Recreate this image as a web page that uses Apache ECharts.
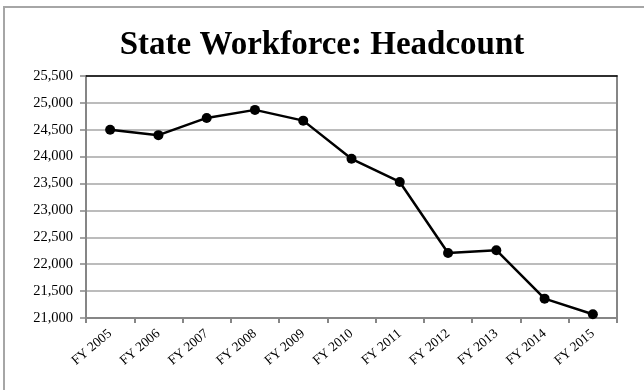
<!DOCTYPE html>
<html>
<head>
<meta charset="utf-8">
<style>
  html, body { margin: 0; padding: 0; background: #fff; }
  #chart { width: 644px; height: 390px; }
</style>
<script src="https://cdn.jsdelivr.net/npm/echarts@6/dist/echarts.min.js"></script>
</head>
<body>
<div id="chart"></div>
<script>
// Fiscal years on the category axis
const years = ['FY 2005', 'FY 2006', 'FY 2007', 'FY 2008', 'FY 2009', 'FY 2010',
               'FY 2011', 'FY 2012', 'FY 2013', 'FY 2014', 'FY 2015'];
// State workforce headcount per fiscal year
const headcount = [24500, 24400, 24720, 24870, 24670, 23960,
                   23530, 22210, 22260, 21360, 21070];
// Value axis range and step
const yMin = 21000;
const yMax = 25500;
const yStep = 500;

const serif = '"Liberation Serif", "DejaVu Serif", serif';
const chart = echarts.init(document.getElementById('chart'));

chart.setOption({
  animation: false,
  backgroundColor: '#fff',
  title: {
    text: 'State Workforce: Headcount',
    left: 'center',
    top: 24,
    textStyle: { fontFamily: serif, fontSize: 33, fontWeight: 'bold', color: '#000' }
  },
  graphic: [{
    type: 'rect',
    shape: { x: 4, y: 7, width: 700, height: 420 },
    style: { fill: 'none', stroke: '#a6a6a6', lineWidth: 2 },
    silent: true,
    z: 0
  }],
  grid: { left: 86, right: 27, top: 76, bottom: 72 },
  xAxis: [{
    type: 'category',
    data: years,
    boundaryGap: true,
    axisLine: { lineStyle: { color: '#868686', width: 2 } },
    axisTick: { show: true, length: 5, lineStyle: { color: '#868686', width: 2 } },
    axisLabel: {
      rotate: 40, margin: 14, interval: 0,
      fontFamily: serif, fontSize: 13.5, color: '#000'
    }
  }, {
    type: 'category',
    data: years,
    position: 'top',
    axisLine: { lineStyle: { color: '#000', width: 1.5 } },
    axisTick: { show: false },
    axisLabel: { show: false }
  }],
  yAxis: [{
    type: 'value',
    min: yMin,
    max: yMax,
    interval: yStep,
    axisLine: { show: true, lineStyle: { color: '#868686', width: 2 } },
    axisTick: { show: true, inside: false, length: 6, lineStyle: { color: '#868686', width: 1.5 } },
    axisLabel: {
      margin: 13,
      fontFamily: serif, fontSize: 14.5, color: '#000',
      formatter: v => v.toLocaleString('en-US')
    },
    splitLine: { show: true, lineStyle: { color: '#a6a6a6', width: 1.5 } }
  }, {
    type: 'value',
    position: 'right',
    min: yMin,
    max: yMax,
    interval: yStep,
    axisLine: { show: true, lineStyle: { color: '#868686', width: 2 } },
    axisTick: { show: false },
    axisLabel: { show: false },
    splitLine: { show: false }
  }],
  series: [{
    type: 'line',
    data: headcount,
    symbol: 'circle',
    symbolSize: 10,
    itemStyle: { color: '#000' },
    lineStyle: { color: '#000', width: 2.5 },
    z: 5
  }]
});
</script>
</body>
</html>
